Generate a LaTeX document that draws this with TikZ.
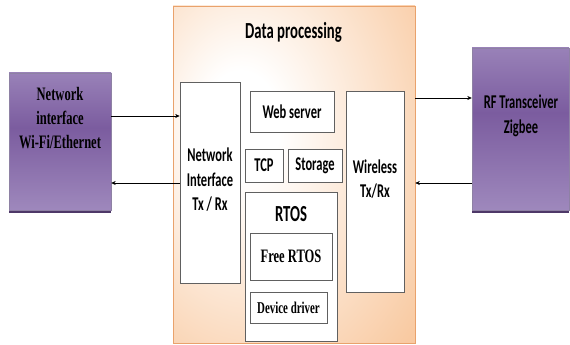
\documentclass[tikz,border=0pt]{standalone}
\usepackage{fontspec}
\usetikzlibrary{arrows.meta,shadows}
\newfontfamily\calfont[FakeStretch=0.64]{Carlito}
\newfontfamily\tmsfont[FakeStretch=0.66]{Liberation Serif}
\definecolor{peach}{HTML}{F7BD8B}
\definecolor{peachline}{HTML}{E9A26C}
\definecolor{lilac}{HTML}{B2A1CD}
\definecolor{plum}{HTML}{7B5C9F}
\definecolor{plumdark}{HTML}{4E3868}
\pgfdeclareradialshading{dpshade}{\pgfpoint{-12bp}{8bp}}{color(0bp)=(white); color(8bp)=(white); color(42bp)=(peach!80!white); color(62bp)=(peach); color(100bp)=(peach)}
\pgfdeclareverticalshading{lilacshade}{100bp}{color(0bp)=(lilac); color(8bp)=(lilac); color(55bp)=(plum); color(92bp)=(lilac); color(100bp)=(lilac)}
\tikzset{
    box/.style={draw=gray!75!black, fill=white, line width=0.7pt, inner sep=0pt},
    purplebox/.style={draw=lilac!80!black, shading=lilacshade, inner sep=0pt,
        drop shadow={shadow xshift=0pt, shadow yshift=-2.5pt, fill=plumdark, opacity=1}},
    arr/.style={-{Stealth[length=4.5pt,width=4pt]}, line width=0.6pt},
    sans/.style={font=\calfont\bfseries\fontsize{19.5}{24.5}\selectfont, align=center},
    serif/.style={font=\tmsfont\bfseries\fontsize{19}{24}\selectfont, align=center}
}
\begin{document}
\begin{tikzpicture}[x=1pt, y=-1pt]
            \useasboundingbox (0,0) rectangle (570,345);

            \node[draw=peachline, shading=dpshade, line width=0.6pt,
                minimum width=242pt, minimum height=337pt] (dp) at (294,174.5) {};
            \node[font=\calfont\bfseries\fontsize{23}{26}\selectfont, anchor=base] (dpT) at (293.5,38) {Data processing};

            \node[box, minimum width=60pt, minimum height=201pt] (ni) at (210,182.5) {};
            \node[sans] (niT) at (210,180) {Network\\Interface\\Tx / Rx};
            \node[box, sans, minimum width=84pt, minimum height=41pt] (web) at (292,111.5) {Web server};
            \node[box, sans, minimum width=38pt, minimum height=33pt] (tcp) at (264,165.5) {TCP};
            \node[box, sans, minimum width=54pt, minimum height=33pt] (sto) at (315,165.5) {Storage};
            \node[box, minimum width=92pt, minimum height=149pt] (rtos) at (291,266.5) {};
            \node[font=\calfont\bfseries\fontsize{23}{26}\selectfont] (rtosT) at (291,214.5) {RTOS};
            \node[box, serif, minimum width=82pt, minimum height=47pt] (free) at (291,256.5) {Free RTOS};
            \node[box, serif, font=\tmsfont\bfseries\fontsize{16.5}{20}\selectfont, minimum width=77pt, minimum height=31pt] (dev) at (288.5,307.5) {Device driver};
            \node[box, minimum width=58pt, minimum height=201pt] (wl) at (375,191.5) {};
            \node[sans] (wlT) at (375,179) {Wireless\\Tx/Rx};

            \node[purplebox, minimum width=102pt, minimum height=137pt] (netL) at (60,141.5) {};
            \node[serif] (netT) at (60,118) {Network\\interface\\Wi-Fi/Ethernet};
            \node[purplebox, minimum width=97pt, minimum height=162pt] (rf) at (520.5,129) {};
            \node[sans] (rfT) at (521,116) {RF Transceiver\\Zigbee};

            \coordinate (lt) at (0,116);
            \coordinate (lb) at (0,183);
            \coordinate (rt) at (0,98);
            \coordinate (rb) at (0,183);
            \draw[arr] (netL.east |- lt) -- (ni.west |- lt);
            \draw[arr] (ni.west |- lb) -- (netL.east |- lb);
            \draw[arr] (dp.east |- rt) -- (rf.west |- rt);
            \draw[arr] (rf.west |- rb) -- (dp.east |- rb);
        \end{tikzpicture}
\end{document}
